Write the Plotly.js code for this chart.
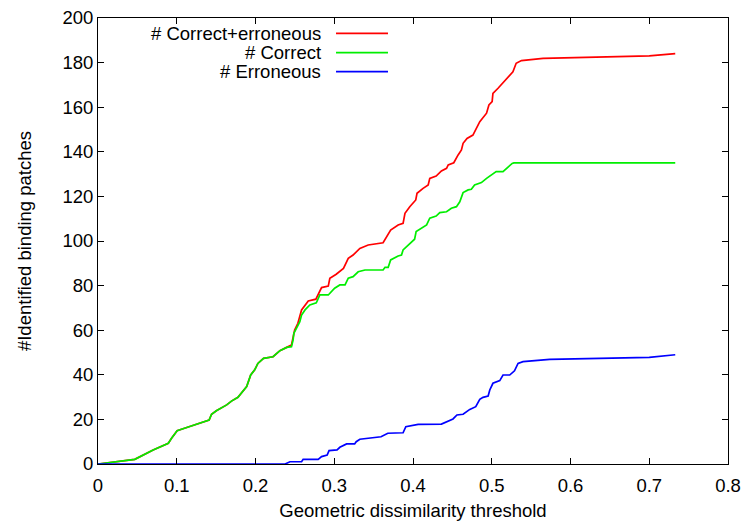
<!DOCTYPE html>
<html>
<head>
<meta charset="utf-8">
<script src="https://cdn.plot.ly/plotly-3.0.1.min.js"></script>
<style>
  html, body { margin: 0; padding: 0; background: #ffffff; }
  #chart { width: 745px; height: 521px; }
</style>
</head>
<body>
<div id="chart"></div>
<script>
// Cumulative number of identified binding patches vs. geometric dissimilarity threshold

const seriesNames = ['# Correct+erroneous', '# Correct', '# Erroneous'];
const seriesColors = ['#ff0000', '#00ee00', '#0000ff'];

// Correct + erroneous
const totalX = [0, 0.0467, 0.070, 0.0893, 0.0934, 0.1005, 0.1127, 0.1294, 0.1411, 0.1442, 0.1503, 0.1634,
  0.1695, 0.1777, 0.1888, 0.1939, 0.199, 0.203, 0.2102, 0.2223, 0.231, 0.2396, 0.2457, 0.2497, 0.2538,
  0.2585, 0.267, 0.2767, 0.2839, 0.2924, 0.2944, 0.3025, 0.3117, 0.3178, 0.3239, 0.3325, 0.3431, 0.362,
  0.3665, 0.3716, 0.3811, 0.3874, 0.3898, 0.3959, 0.4035, 0.4051, 0.4128, 0.4193, 0.4213, 0.4294, 0.4361,
  0.4426, 0.4447, 0.4518, 0.4573, 0.4615, 0.4636, 0.4686, 0.4761, 0.4806, 0.4848, 0.4934, 0.4964, 0.5005,
  0.5015, 0.508, 0.5143, 0.5208, 0.5269, 0.531, 0.5377, 0.5651, 0.6117, 0.70, 0.733];
const totalY = [0, 2.1, 6.3, 9.3, 11.5, 14.9, 16.4, 18.2, 19.7, 22.3, 23.9, 26.5,
  28.2, 29.9, 34.7, 39.9, 42.2, 45.1, 47.4, 48.1, 50.8, 52.3, 53.4, 60.1, 63.1,
  69.1, 73.1, 73.9, 79.1, 79.8, 83.3, 85.1, 87.7, 92.2, 93.7, 96.7, 98.2, 99.2,
  101.9, 104.9, 107.2, 107.9, 112.4, 115.4, 118.4, 121.4, 123.6, 125.1, 128.1, 129.1, 131.4,
  132.6, 134.1, 135.1, 138.6, 140.8, 143.8, 146.0, 147.5, 150.5, 153.5, 157.3, 161.0, 162.5,
  166.2, 168.5, 171.0, 173.4, 175.9, 179.7, 180.9, 181.9, 182.3, 183.0, 184.0];

// Correct
const correctX = [0, 0.0467, 0.070, 0.0893, 0.0934, 0.1005, 0.1127, 0.1294, 0.1411, 0.1442, 0.1503, 0.1634,
  0.1695, 0.1777, 0.1888, 0.1939, 0.199, 0.203, 0.2102, 0.2223, 0.231, 0.2396, 0.2457, 0.2477, 0.2487,
  0.2563, 0.2585, 0.2629, 0.269, 0.2772, 0.2817, 0.2924, 0.3005, 0.3071, 0.3137, 0.3178, 0.3239, 0.3304,
  0.3391, 0.362, 0.3645, 0.3685, 0.3716, 0.3811, 0.3854, 0.3874, 0.398, 0.402, 0.404, 0.4108, 0.4173,
  0.4213, 0.4294, 0.434, 0.4426, 0.4487, 0.4552, 0.4594, 0.4636, 0.470, 0.4741, 0.4782, 0.4869, 0.4934,
  0.4995, 0.5056, 0.5143, 0.5259, 0.528, 0.733];
const correctY = [0, 2.1, 6.3, 9.3, 11.5, 14.9, 16.4, 18.2, 19.7, 22.3, 23.9, 26.5,
  28.2, 29.9, 34.7, 39.9, 42.2, 45.1, 47.4, 48.1, 50.8, 52.3, 52.6, 55.6, 58.6,
  63.8, 66.8, 69.1, 71.3, 72.3, 75.8, 75.8, 78.8, 80.3, 80.3, 83.3, 84.0, 86.2,
  87.0, 87.0, 88.2, 88.2, 91.5, 93.3, 93.7, 96.0, 99.2, 100.8, 104.2, 105.7, 107.2,
  110.2, 111.2, 112.7, 113.1, 114.7, 115.4, 117.6, 121.7, 122.9, 123.2, 125.1, 126.2, 128.1,
  129.6, 131.1, 131.1, 134.8, 135.0, 135.0];

// Erroneous
const errX = [0, 0.2376, 0.2437, 0.2585, 0.2605, 0.2796, 0.2839, 0.291, 0.2934, 0.3036, 0.3071, 0.3137,
  0.3157, 0.3259, 0.3279, 0.3325, 0.3594, 0.368, 0.3874, 0.3909, 0.4065, 0.4361, 0.4426, 0.4508, 0.4558,
  0.4636, 0.4721, 0.4797, 0.4848, 0.4889, 0.4954, 0.4975, 0.5015, 0.5102, 0.5143, 0.5228, 0.5289, 0.5334,
  0.5397, 0.5609, 0.5736, 0.70, 0.733];
const errY = [0, 0, 1.0, 1.0, 2.1, 2.1, 3.3, 4.0, 6.0, 6.3, 7.5, 8.5,
  9.0, 9.0, 10.0, 11.1, 12.2, 13.8, 14.0, 16.7, 17.8, 17.9, 19.0, 20.2, 22.0,
  22.3, 24.5, 25.7, 29.0, 29.9, 30.5, 33.2, 36.2, 37.4, 39.9, 39.9, 41.8, 45.1,
  45.9, 46.6, 46.9, 47.8, 49.0];

const xs = [totalX, correctX, errX];
const ys = [totalY, correctY, errY];

const font = 'Liberation Sans, Arial, Helvetica, sans-serif';
const fontSize = 18.5;

const traces = xs.map((x, i) => ({
  type: 'scatter',
  mode: 'lines',
  x: x,
  y: ys[i],
  name: seriesNames[i],
  line: { color: seriesColors[i], width: 1.7 },
  showlegend: false,
  hoverinfo: 'x+y+name'
}));

// Key in the upper left: right-aligned label followed by a line sample
const keyRows = [0.9657, 0.9222, 0.8796];
const annotations = seriesNames.map((n, i) => ({
  xref: 'paper', yref: 'paper',
  x: 0.357, y: keyRows[i],
  xanchor: 'right', yanchor: 'middle',
  text: n, showarrow: false,
  font: { family: font, size: fontSize, color: '#000' }
}));
const shapes = seriesNames.map((n, i) => ({
  type: 'line', xref: 'paper', yref: 'paper',
  x0: 0.3778, x1: 0.4603, y0: keyRows[i], y1: keyRows[i],
  line: { color: seriesColors[i], width: 1.7 }
}));

const axisCommon = {
  showgrid: false,
  zeroline: false,
  showline: true,
  linecolor: '#000',
  linewidth: 1,
  mirror: 'ticks',
  ticks: 'inside',
  ticklen: 6,
  tickwidth: 1,
  tickcolor: '#000',
  tickfont: { family: font, size: fontSize, color: '#000' }
};

const layout = {
  width: 745,
  height: 521,
  margin: { l: 98, r: 17, t: 18, b: 57 },
  paper_bgcolor: '#fff',
  plot_bgcolor: '#fff',
  showlegend: false,
  xaxis: Object.assign({}, axisCommon, {
    range: [0, 0.8],
    dtick: 0.1,
    tick0: 0,
    ticklabelstandoff: 5,
    title: { text: 'Geometric dissimilarity threshold', font: { family: font, size: fontSize, color: '#000' }, standoff: 9 }
  }),
  yaxis: Object.assign({}, axisCommon, {
    range: [0, 200],
    dtick: 20,
    tick0: 0,
    title: { text: '#Identified binding patches', font: { family: font, size: fontSize, color: '#000' }, standoff: 25 }
  }),
  annotations: annotations,
  shapes: shapes
};

Plotly.newPlot('chart', traces, layout, { displayModeBar: false, staticPlot: true });
</script>
</body>
</html>
